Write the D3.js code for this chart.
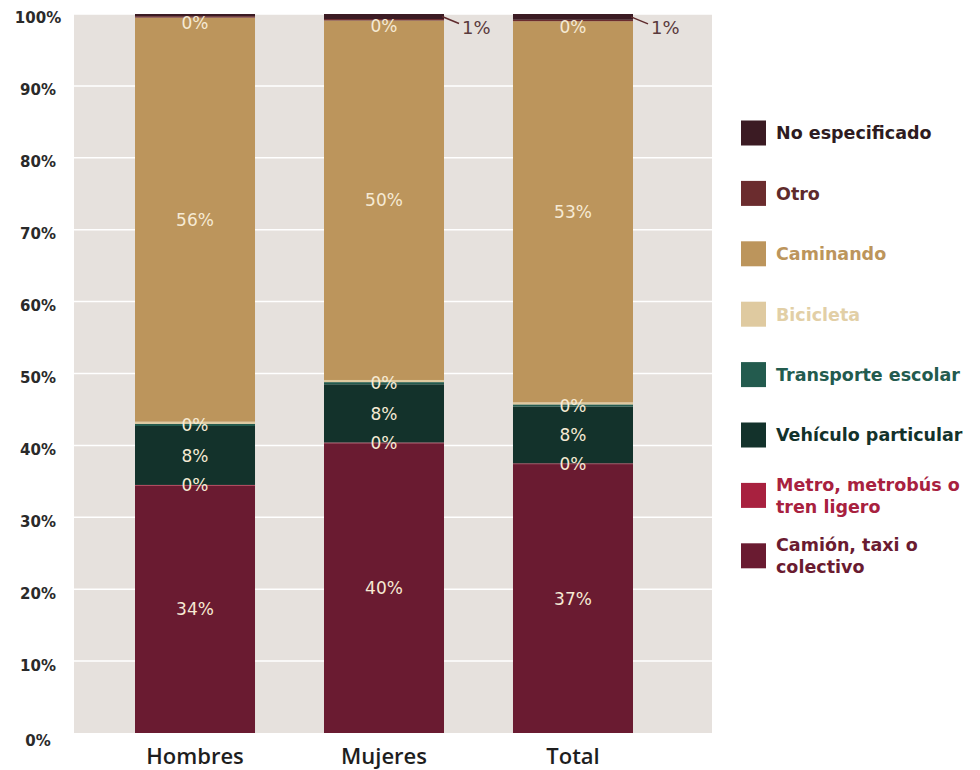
<!DOCTYPE html>
<html>
<head>
<meta charset="utf-8">
<script src="https://cdn.jsdelivr.net/npm/d3@7"></script>
<style>
  html, body { margin: 0; padding: 0; background: #ffffff; }
  svg { display: block; }
</style>
</head>
<body>
<svg id="chart" width="980" height="770"></svg>
<script>
// ---- DATA ----
const categories = ["Hombres", "Mujeres", "Total"];
const seriesNames = [
  "Camión, taxi o colectivo",
  "Metro, metrobús o tren ligero",
  "Vehículo particular",
  "Transporte escolar",
  "Bicicleta",
  "Caminando",
  "Otro",
  "No especificado"
];
const camion      = [34.4, 40.3, 37.4];
const metro       = [0.1, 0.1, 0.1];
const vehiculo    = [8.2, 8.1, 7.9];
const transporte  = [0.3, 0.3, 0.3];
const bicicleta   = [0.3, 0.3, 0.3];
const caminando   = [56.2, 50.0, 53.0];
const otro        = [0.2, 0.2, 0.2];
const noEspecif   = [0.3, 0.7, 0.8];
const yTicks = [0, 10, 20, 30, 40, 50, 60, 70, 80, 90, 100];

// ---- STYLE ----
const seriesValues = [camion, metro, vehiculo, transporte, bicicleta, caminando, otro, noEspecif];
const colors = ["#6a1b31", "#a8213f", "#13322b", "#235b4e", "#dfcaa0", "#bc955c", "#6b2c2e", "#3b1b23"];
const legendText = ["#6a1b31", "#a8213f", "#13322b", "#235b4e", "#e2cfa6", "#bc955c", "#5e2a2c", "#2e1b21"];
const keys = seriesNames;

const table = categories.map((c, i) => {
  const row = { cat: c };
  keys.forEach((k, j) => row[k] = seriesValues[j][i]);
  return row;
});

const svg = d3.select("#chart");
const plot = { left: 74, right: 712, top: 14, bottom: 733 };

const y = d3.scaleLinear().domain([0, 100]).range([plot.bottom, plot.top]);
const x = d3.scaleBand().domain(categories).range([135, 633]).paddingInner(0.365).paddingOuter(0);

// background
svg.append("rect")
  .attr("x", plot.left).attr("y", plot.top)
  .attr("width", plot.right - plot.left).attr("height", plot.bottom - plot.top)
  .attr("fill", "#e6e1dd");

// gridlines
svg.append("g").selectAll("line").data(yTicks.filter(d => d > 0)).join("line")
  .attr("x1", plot.left).attr("x2", plot.right)
  .attr("y1", d => y(d)).attr("y2", d => y(d))
  .attr("stroke", "#ffffff").attr("stroke-width", 1.5);

// y axis
const yAxis = svg.append("g").attr("transform", `translate(${plot.left},0)`)
  .call(d3.axisLeft(y).tickValues(yTicks).tickFormat(d => d + "%").tickSize(0));
yAxis.select(".domain").remove();
yAxis.selectAll("text")
  .attr("x", -36).attr("dy", d => d === 0 ? "0.8em" : (d === 100 ? "0.55em" : "0.6em"))
  .attr("text-anchor", "middle")
  .style("font-family", "'DejaVu Sans', sans-serif")
  .style("font-weight", "bold")
  .style("font-size", "15px")
  .attr("fill", "#2a2a2a");

// x axis
const xAxis = svg.append("g").attr("transform", `translate(0,${plot.bottom})`)
  .call(d3.axisBottom(x).tickSize(0).tickPadding(15));
xAxis.select(".domain").remove();
xAxis.selectAll("text")
  .style("font-family", "'Open Sans', sans-serif")
  .style("font-weight", "600")
  .style("font-size", "22px")
  .attr("fill", "#1e1e1e");

// stacked bars
const stack = d3.stack().keys(keys)(table);
const layers = svg.append("g").selectAll("g").data(stack).join("g")
  .attr("fill", (d, i) => colors[i]);
layers.selectAll("rect").data(d => d).join("rect")
  .attr("x", d => x(d.data.cat))
  .attr("width", x.bandwidth())
  .attr("y", d => y(d[1]))
  .attr("height", d => y(d[0]) - y(d[1]));

// value labels inside bars
const fmt = v => Math.round(v) + "%";
const labelKeys = [0, 1, 2, 3, 5, 6];
const labels = svg.append("g")
  .style("font-family", "'DejaVu Sans', sans-serif")
  .style("font-size", "17px")
  .attr("fill", "#f6ead4")
  .attr("text-anchor", "middle");
labelKeys.forEach(si => {
  stack[si].forEach(d => {
    const mid = (y(d[0]) + y(d[1])) / 2;
    const off = si === 6 ? 6 : 0;
    labels.append("text")
      .attr("x", x(d.data.cat) + x.bandwidth() / 2)
      .attr("y", mid + off)
      .attr("dy", "0.36em")
      .text(fmt(d[1] - d[0]));
  });
});

// outside labels for No especificado (when >= 0.5)
const outer = svg.append("g");
stack[7].forEach(d => {
  const v = d[1] - d[0];
  if (v < 0.5) return;
  const mid = (y(d[0]) + y(d[1])) / 2;
  const bx = x(d.data.cat) + x.bandwidth();
  outer.append("line")
    .attr("x1", bx - 2).attr("y1", mid)
    .attr("x2", bx + 15).attr("y2", mid + 7)
    .attr("stroke", "#5e2a2c").attr("stroke-width", 1.5);
  outer.append("text")
    .attr("x", bx + 18).attr("y", mid + 14)
    .attr("dy", "0.2em")
    .style("font-family", "'DejaVu Sans', sans-serif")
    .style("font-size", "18px")
    .attr("fill", "#5a3a3c")
    .text(fmt(v));
});

// legend
const legendItems = [
  { i: 7, lines: ["No especificado"] },
  { i: 6, lines: ["Otro"] },
  { i: 5, lines: ["Caminando"] },
  { i: 4, lines: ["Bicicleta"] },
  { i: 3, lines: ["Transporte escolar"] },
  { i: 2, lines: ["Vehículo particular"] },
  { i: 1, lines: ["Metro, metrobús o", "tren ligero"] },
  { i: 0, lines: ["Camión, taxi o", "colectivo"] }
];
const lg = svg.append("g").attr("transform", "translate(741,133)");
legendItems.forEach((it, k) => {
  const cy = k * 60.4;
  lg.append("rect")
    .attr("x", 0).attr("y", cy - 12.5).attr("width", 25).attr("height", 25)
    .attr("fill", colors[it.i]);
  const t = lg.append("text")
    .attr("x", 35)
    .style("font-family", "'DejaVu Sans', sans-serif")
    .style("font-weight", "bold")
    .style("font-size", "17.5px")
    .attr("fill", legendText[it.i]);
  const n = it.lines.length;
  it.lines.forEach((ln, j) => {
    t.append("tspan")
      .attr("x", 35)
      .attr("y", cy + (j - (n - 1) / 2) * 22)
      .attr("dy", "0.36em")
      .text(ln);
  });
});
</script>
</body>
</html>
